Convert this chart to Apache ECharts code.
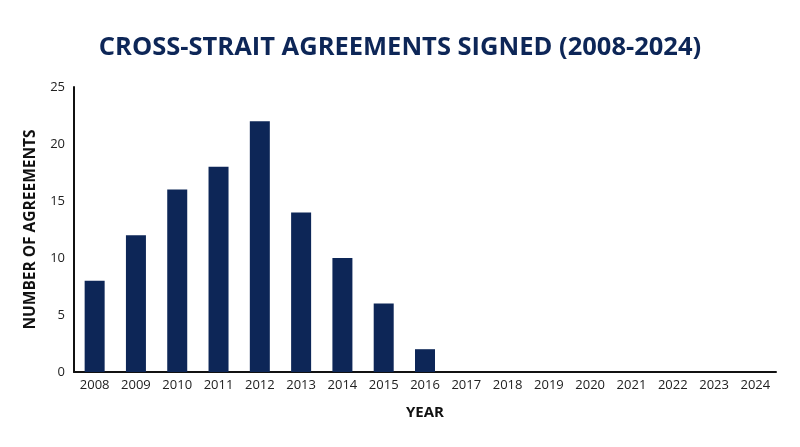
<!DOCTYPE html>
<html><head><meta charset="utf-8">
<script src="https://cdn.jsdelivr.net/npm/echarts@6/dist/echarts.min.js"></script>
<style>html,body{margin:0;padding:0;background:#fff}#c{width:800px;height:447px}</style>
</head><body><div id="c"></div>
<script>
const years = ['2008','2009','2010','2011','2012','2013','2014','2015','2016','2017','2018','2019','2020','2021','2022','2023','2024'];
const agreements = [8,12,16,18,22,14,10,6,2,0,0,0,0,0,0,0,0];
const yTicks = {min:0, max:25, interval:5};
const navy = '#0d2657';
const chart = echarts.init(document.getElementById('c'), null, {renderer:'canvas'});
chart.setOption({
  animation:false,
  textStyle:{fontFamily:'Open Sans'},
  title:{text:'CROSS-STRAIT AGREEMENTS SIGNED (2008-2024)', left:'center', top:30,
    textStyle:{fontFamily:'Open Sans', fontWeight:'bold', fontSize:25.5, color:navy}},
  grid:{left:74, right:24, top:87, bottom:75},
  xAxis:{type:'category', data:years, name:'YEAR', nameLocation:'middle', nameGap:33,
    nameTextStyle:{fontFamily:'Open Sans', fontWeight:'bold', fontSize:15, color:'#111'},
    axisLine:{lineStyle:{color:'#111', width:2}}, axisTick:{show:false},
    axisLabel:{color:'#222', fontSize:13, margin:7}},
  yAxis:{type:'value', min:yTicks.min, max:yTicks.max, interval:yTicks.interval,
    name:'NUMBER OF AGREEMENTS', nameLocation:'middle', nameGap:35,
    nameTextStyle:{fontFamily:'Open Sans', fontWeight:'bold', fontSize:15.5, color:'#111'},
    axisLine:{show:true, lineStyle:{color:'#111', width:2}}, axisTick:{show:false},
    splitLine:{show:false}, axisLabel:{color:'#222', fontSize:13, margin:9}},
  series:[{type:'bar', data:agreements, barWidth:20, itemStyle:{color:navy}}]
});
</script></body></html>
